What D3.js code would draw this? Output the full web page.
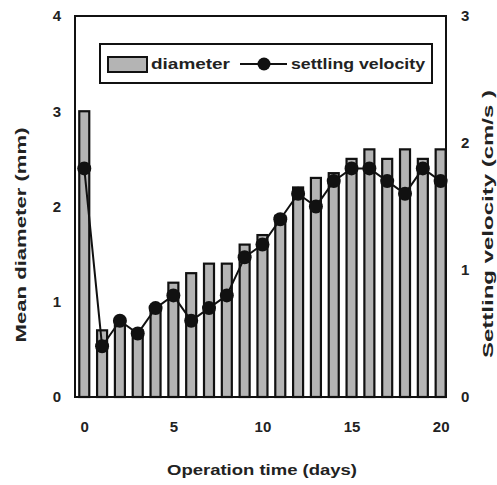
<!DOCTYPE html>
<html><head><meta charset="utf-8">
<script src="https://cdn.jsdelivr.net/npm/d3@7"></script>
<style>body{margin:0;background:#fff}svg{display:block}text{font-family:"Liberation Sans",Arial,sans-serif;font-weight:bold;fill:#222}</style>
</head><body>
<script>
const days = [0,1,2,3,4,5,6,7,8,9,10,11,12,13,14,15,16,17,18,19,20];
const diameter = [3.0,0.7,0.8,0.7,0.95,1.2,1.3,1.4,1.4,1.6,1.7,1.9,2.2,2.3,2.35,2.5,2.6,2.5,2.6,2.5,2.6];
const velocity = [1.8,0.4,0.6,0.5,0.7,0.8,0.6,0.7,0.8,1.1,1.2,1.4,1.6,1.5,1.7,1.8,1.8,1.7,1.6,1.8,1.7];
const xTicks = [0,5,10,15,20];
const yLeftTicks = [0,1,2,3,4];
const yRightTicks = [0,1,2,3];

const W=497,H=485;
const L=75,R=446,T=16,B=397;
const svg=d3.select("body").append("svg").attr("width",W).attr("height",H);
const x=d3.scaleLinear().domain([-0.52,20.3]).range([L,R]);
const yL=d3.scaleLinear().domain([0,4]).range([B,T]);
const yR=d3.scaleLinear().domain([0,3]).range([B,T]);

// bars
svg.append("g").selectAll("rect").data(days).join("rect")
  .attr("x",d=>x(d)-5).attr("width",10)
  .attr("y",(d,i)=>yL(diameter[i])).attr("height",(d,i)=>B-yL(diameter[i]))
  .attr("fill","#b4b4b4").attr("stroke","#111").attr("stroke-width",2.2);

// line
const line=d3.line().x((d,i)=>x(days[i])).y(d=>yR(d));
svg.append("path").datum(velocity).attr("d",line).attr("fill","none").attr("stroke","#111").attr("stroke-width",2);
svg.append("g").selectAll("circle").data(velocity).join("circle")
  .attr("cx",(d,i)=>x(days[i])).attr("cy",d=>yR(d)).attr("r",7).attr("fill","#111");

// frame
svg.append("rect").attr("x",L).attr("y",T).attr("width",R-L).attr("height",B-T)
  .attr("fill","none").attr("stroke","#111").attr("stroke-width",2);

// axes
const fs="15px";
const fmt=d3.format("d");
const ax=svg.append("g").attr("transform",`translate(0,${B})`).call(d3.axisBottom(x).tickValues(xTicks).tickFormat(fmt).tickSize(0).tickPadding(24));
const al=svg.append("g").attr("transform",`translate(${L},0)`).call(d3.axisLeft(yL).tickValues(yLeftTicks).tickFormat(fmt).tickSize(0).tickPadding(14));
const ar=svg.append("g").attr("transform",`translate(${R},0)`).call(d3.axisRight(yR).tickValues(yRightTicks).tickFormat(fmt).tickSize(0).tickPadding(15));
[ax,al,ar].forEach(g=>{g.select(".domain").remove();g.selectAll("text").style("font-size",fs).attr("fill","#222");});
svg.selectAll(".tick text").attr("font-family",null);

// axis titles
svg.append("text").attr("x",262).attr("y",475).attr("text-anchor","middle").style("font-size","15px")
  .attr("textLength",190).attr("lengthAdjust","spacingAndGlyphs").text("Operation time (days)");
svg.append("text").attr("transform","translate(26,235) rotate(-90)").attr("text-anchor","middle").style("font-size","15px")
  .attr("textLength",215).attr("lengthAdjust","spacingAndGlyphs").text("Mean diameter (mm)");
svg.append("text").attr("transform","translate(493,224) rotate(-90)").attr("text-anchor","middle").style("font-size","15px")
  .attr("textLength",268).attr("lengthAdjust","spacingAndGlyphs").text("Settling velocity (cm/s )");

// legend
const lg=svg.append("g");
lg.append("rect").attr("x",100).attr("y",44).attr("width",332).attr("height",39).attr("fill","#fff").attr("stroke","#111").attr("stroke-width",2);
lg.append("rect").attr("x",108).attr("y",57).attr("width",39).attr("height",15).attr("fill","#b4b4b4").attr("stroke","#111").attr("stroke-width",2);
lg.append("text").attr("x",151).attr("y",69).style("font-size","15px").attr("textLength",79).attr("lengthAdjust","spacingAndGlyphs").text("diameter");
lg.append("line").attr("x1",240).attr("x2",287).attr("y1",64).attr("y2",64).attr("stroke","#111").attr("stroke-width",2);
lg.append("circle").attr("cx",264).attr("cy",64).attr("r",6.5).attr("fill","#111");
lg.append("text").attr("x",291).attr("y",69).style("font-size","15px").attr("textLength",134).attr("lengthAdjust","spacingAndGlyphs").text("settling velocity");
</script>
</body></html>
